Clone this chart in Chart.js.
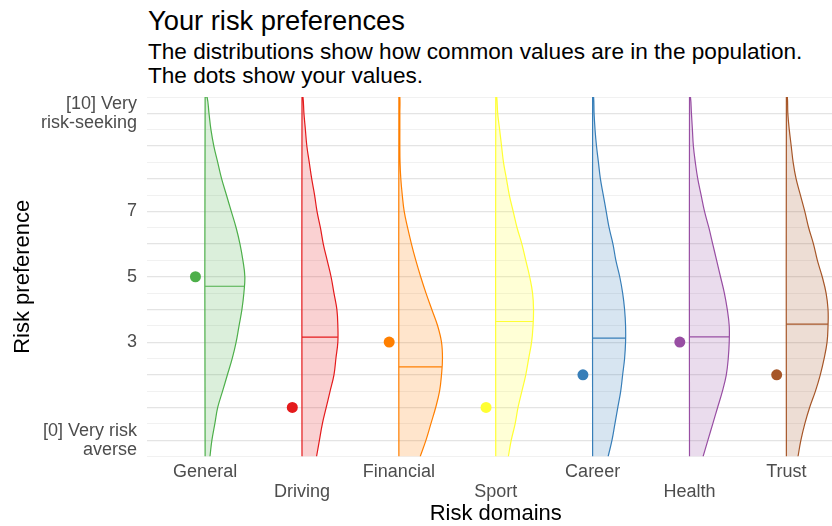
<!DOCTYPE html>
<html>
<head>
<meta charset="utf-8">
<script src="https://cdn.jsdelivr.net/npm/chart.js@4.4.0/dist/chart.umd.min.js"></script>
<style>
  body { margin: 0; width: 832px; height: 526px; overflow: hidden; background: #fff; font-family: "Liberation Sans", Arial, sans-serif; }
  #titre { position: absolute; left: 148px; top: 7px; font-size: 27.3px; line-height: 27px; color: #000; white-space: nowrap; }
  #soustitre { position: absolute; left: 148px; top: 40px; font-size: 22.6px; line-height: 24px; color: #000; white-space: nowrap; }
  #graphe { position: absolute; left: 0; top: 0; }
</style>
</head>
<body>
<div id="titre">Your risk preferences</div>
<div id="soustitre">The distributions show how common values are in the population.<br>The dots show your values.</div>
<canvas id="graphe" width="850" height="526" style="width:850px;height:526px"></canvas>
<script>
const domaines = ["General", "Driving", "Financial", "Sport", "Career", "Health", "Trust"];
const couleurs = ["#4DAF4A", "#E41A1C", "#FF7F00", "#FFFF33", "#377EB8", "#984EA3", "#A65628"];
const vosValeurs = [5, 1, 3, 1, 2, 3, 2];
const medianes = [4.71, 3.15, 2.24, 3.63, 3.12, 3.16, 3.55];

// niveaux de risque ou la largeur des distributions a ete lue
const niveaux = [-0.5, 0, 0.5, 1, 1.5, 2, 2.5, 3, 3.5, 4, 4.5, 5, 5.5, 6, 6.5, 7, 7.5, 8, 8.5, 9, 9.5, 10, 10.5];
// demi-largeur de chaque distribution (en unites de domaine)
const densiteGeneral   = [0.05, 0.07, 0.10, 0.13, 0.18, 0.23, 0.28, 0.32, 0.35, 0.38, 0.40, 0.41, 0.39, 0.36, 0.32, 0.27, 0.22, 0.17, 0.13, 0.09, 0.06, 0.04, 0.02];
const densiteDriving   = [0.15, 0.18, 0.21, 0.25, 0.29, 0.33, 0.35, 0.37, 0.37, 0.36, 0.33, 0.30, 0.26, 0.22, 0.19, 0.155, 0.13, 0.10, 0.075, 0.05, 0.035, 0.02, 0.01];
const densiteFinancial = [0.22, 0.28, 0.33, 0.38, 0.42, 0.44, 0.45, 0.44, 0.40, 0.34, 0.28, 0.225, 0.175, 0.13, 0.09, 0.055, 0.035, 0.02, 0.012, 0.01, 0.01, 0.01, 0.01];
const densiteSport     = [0.13, 0.16, 0.20, 0.23, 0.27, 0.31, 0.34, 0.37, 0.385, 0.39, 0.38, 0.35, 0.31, 0.27, 0.22, 0.18, 0.14, 0.11, 0.08, 0.06, 0.04, 0.02, 0.01];
const densiteCareer    = [0.16, 0.20, 0.23, 0.26, 0.29, 0.31, 0.33, 0.34, 0.34, 0.33, 0.31, 0.28, 0.24, 0.21, 0.17, 0.14, 0.11, 0.08, 0.06, 0.04, 0.025, 0.015, 0.01];
const densiteHealth    = [0.14, 0.19, 0.24, 0.29, 0.34, 0.38, 0.40, 0.41, 0.41, 0.39, 0.36, 0.32, 0.28, 0.24, 0.20, 0.155, 0.12, 0.085, 0.06, 0.04, 0.03, 0.02, 0.01];
const densiteTrust     = [0.12, 0.15, 0.19, 0.24, 0.30, 0.35, 0.39, 0.42, 0.43, 0.43, 0.41, 0.37, 0.32, 0.28, 0.23, 0.19, 0.145, 0.10, 0.07, 0.05, 0.03, 0.015, 0.01];
const densites = [densiteGeneral, densiteDriving, densiteFinancial, densiteSport, densiteCareer, densiteHealth, densiteTrust];

const yTicksValeurs = [0, 3, 5, 7, 10];
const yTicksTextes = [["[0] Very risk", "averse"], "3", "5", "7", ["[10] Very", "risk-seeking"]];

Chart.defaults.font.family = '"Liberation Sans", Arial, sans-serif';

function transparent(hex, alpha) {
  const r = parseInt(hex.slice(1, 3), 16);
  const g = parseInt(hex.slice(3, 5), 16);
  const b = parseInt(hex.slice(5, 7), 16);
  return `rgba(${r}, ${g}, ${b}, ${alpha})`;
}

// largeur de la distribution au niveau v (pour le trait de la mediane)
function largeurA(densite, v) {
  for (let j = 0; j < niveaux.length - 1; j++) {
    if (v >= niveaux[j] && v <= niveaux[j + 1]) {
      const t = (v - niveaux[j]) / (niveaux[j + 1] - niveaux[j]);
      return densite[j] + t * (densite[j + 1] - densite[j]);
    }
  }
  return 0;
}

const datasets = [];

for (let k = 0; k < domaines.length; k++) {
  const centre = k + 1;
  const contour = niveaux.map((v, j) => ({ x: centre + densites[k][j], y: v }));
  contour.push({ x: centre, y: niveaux[niveaux.length - 1] });
  contour.push({ x: centre, y: niveaux[0] });
  datasets.push({
    label: domaines[k],
    data: contour,
    borderColor: couleurs[k],
    backgroundColor: transparent(couleurs[k], 0.2),
    borderWidth: 1.2,
    fill: "shape",
    tension: 0.4,
    pointRadius: 0,
    order: 3,
  });
  datasets.push({
    label: domaines[k] + " median",
    data: [
      { x: centre, y: medianes[k] },
      { x: centre + largeurA(densites[k], medianes[k]), y: medianes[k] },
    ],
    borderColor: couleurs[k],
    borderWidth: 1.2,
    fill: false,
    pointRadius: 0,
    order: 2,
  });
}

datasets.push({
  label: "Your values",
  data: vosValeurs.map((v, k) => ({ x: k + 1 - 0.1, y: v })),
  showLine: false,
  pointRadius: 5.5,
  pointBorderWidth: 0,
  pointBackgroundColor: couleurs,
  pointBorderColor: couleurs,
  order: 1,
});

const configuration = {
  type: "line",
  data: { datasets: datasets },
  options: {
    responsive: false,
    animation: false,
    layout: { padding: { top: 97, right: 5, left: 0, bottom: 0 } },
    plugins: {
      legend: { display: false },
      tooltip: { enabled: false },
    },
    scales: {
      x: {
        type: "linear",
        min: 0.4,
        max: 7.6,
        afterBuildTicks: (s) => { s.ticks = domaines.map((d, i) => ({ value: i + 1 })); },
        afterFit: (s) => { s.height = 69.5; },
        grid: { display: false, drawTicks: false },
        border: { display: false },
        ticks: {
          autoSkip: false,
          maxRotation: 0,
          padding: 6,
          color: "#4d4d4d",
          font: { size: 18, lineHeight: 1.1 },
          callback: (value, index) => (index % 2 === 0 ? [domaines[index]] : ["", domaines[index]]),
        },
        title: {
          display: true,
          text: "Risk domains",
          color: "#000",
          font: { size: 22, lineHeight: 1.1 },
          padding: 0,
        },
      },
      y: {
        type: "linear",
        min: -0.5,
        max: 10.5,
        afterBuildTicks: (s) => { s.ticks = niveaux.map((v) => ({ value: v })); },
        afterFit: (s) => { s.width = 147; },
        grid: {
          drawTicks: false,
          color: (ctx) => (Number.isInteger(ctx.tick.value) ? "#e4e4e4" : "#f1f1f1"),
          lineWidth: (ctx) => (Number.isInteger(ctx.tick.value) ? 1.2 : 1),
        },
        border: { display: false },
        ticks: {
          autoSkip: false,
          padding: 10,
          color: "#4d4d4d",
          font: { size: 18, lineHeight: 1.05 },
          callback: (value) => {
            const i = yTicksValeurs.indexOf(value);
            return i >= 0 ? yTicksTextes[i] : "";
          },
        },
        title: {
          display: true,
          text: "Risk preference",
          color: "#000",
          font: { size: 22, lineHeight: 1.2 },
          padding: { top: 10, bottom: 0 },
        },
      },
    },
  },
};

const graphique = document.getElementById("graphe");
const chart = new Chart(graphique, configuration);
</script>
</body>
</html>
